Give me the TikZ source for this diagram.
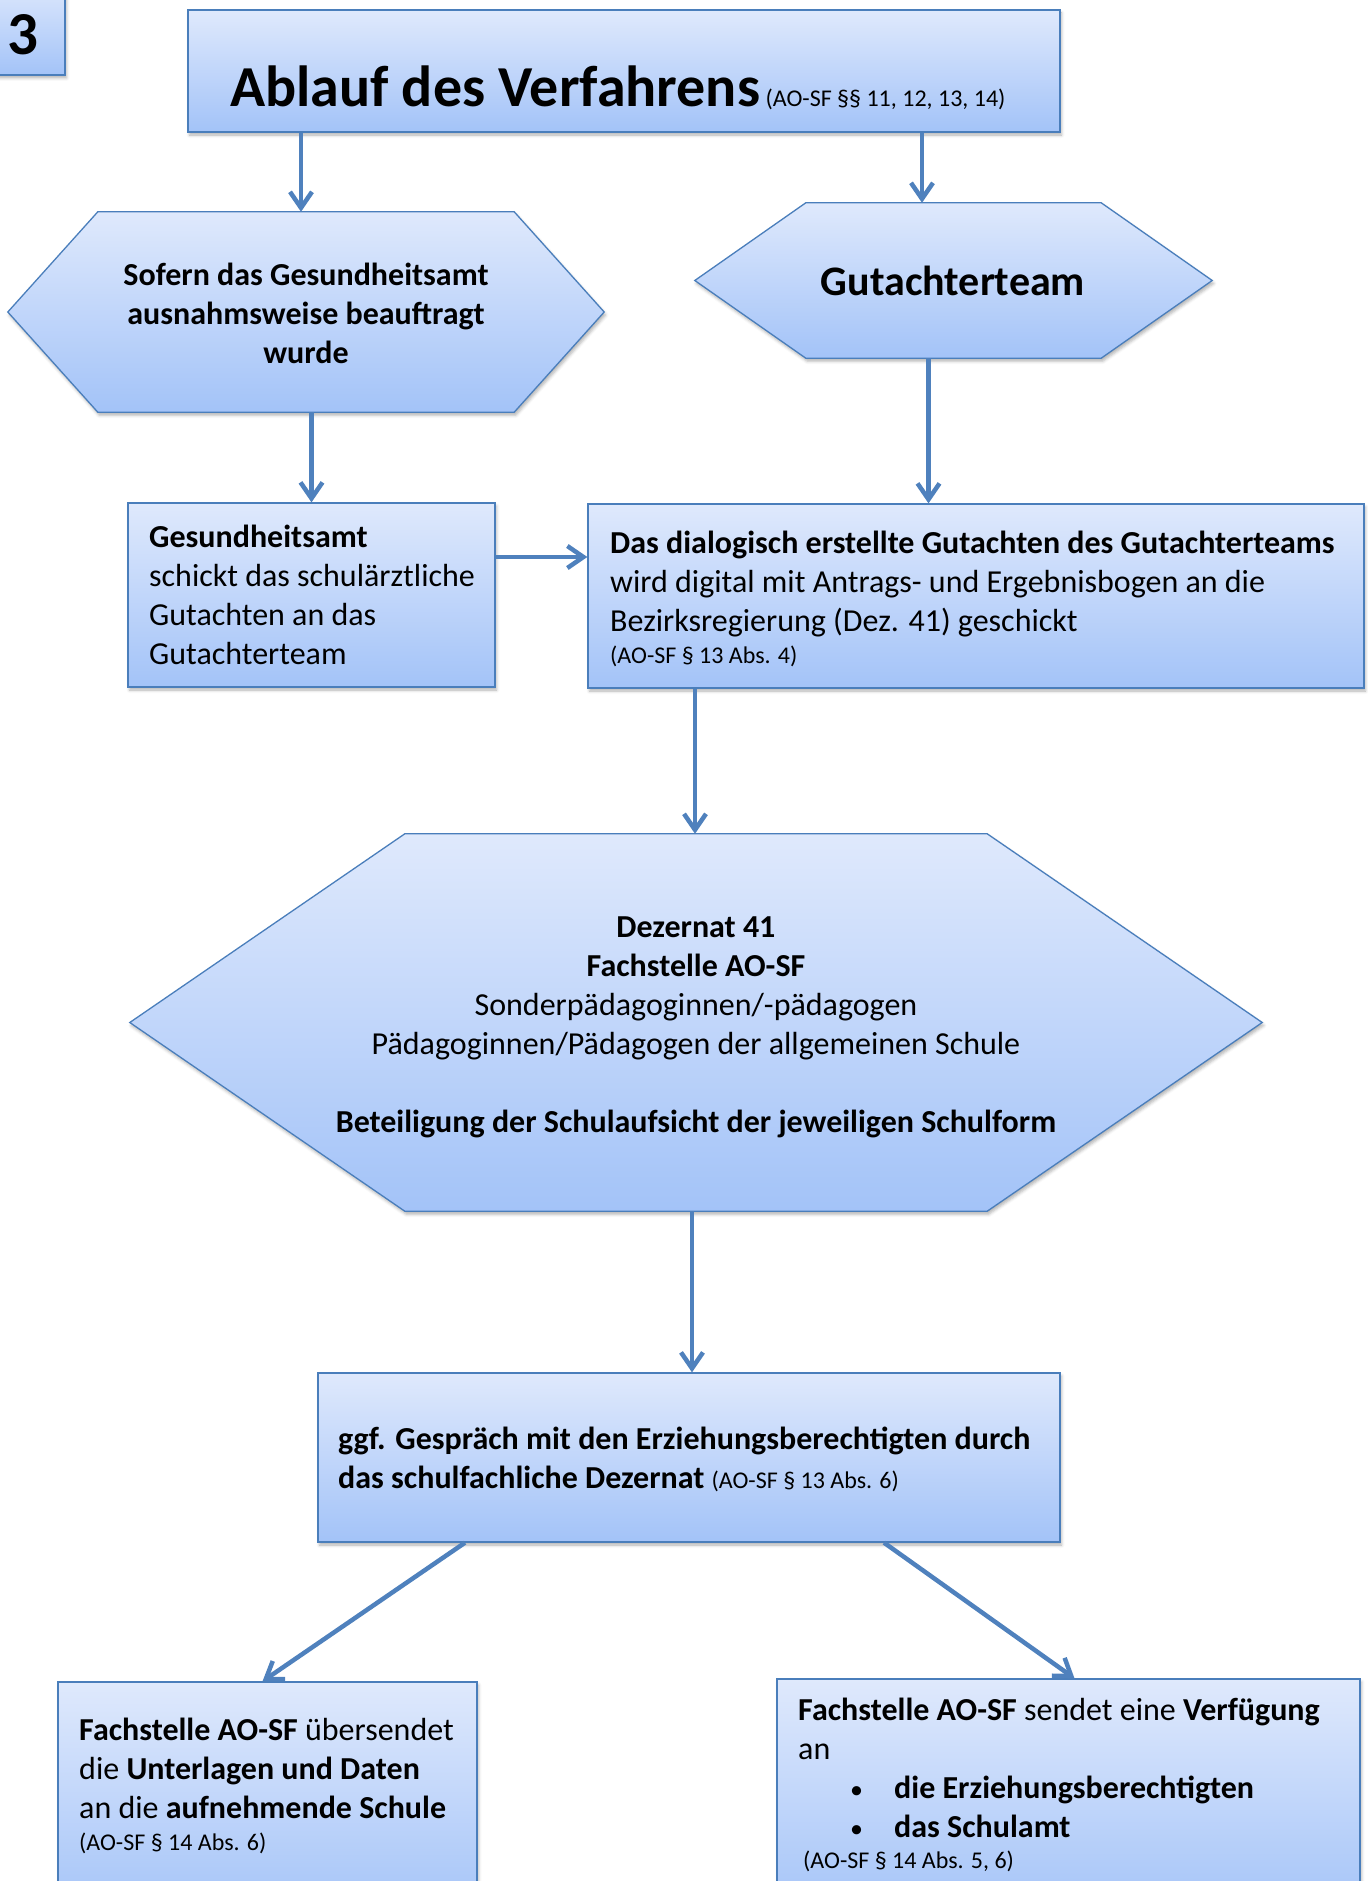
\documentclass[tikz,border=0pt]{standalone}
\usepackage{fontspec}
\setmainfont{Carlito}
\usetikzlibrary{arrows.meta,shadows.blur,calc}
\definecolor{bord}{RGB}{74,126,187}
\definecolor{arrc}{RGB}{79,129,189}
\definecolor{ftop}{RGB}{223,233,252}
\definecolor{fbot}{RGB}{163,195,248}
\newcommand\fbig{\fontsize{32}{39}\selectfont}
\newcommand\fsml{\fontsize{24}{29}\selectfont}
\newcommand\fttl{\fontsize{58}{70}\selectfont}
\newcommand\fnum{\fontsize{61}{72}\selectfont}
\newcommand\fgut{\fontsize{42}{51}\selectfont}
\newcommand\hexpath[2]{%
  \path[hexshape] ([xshift=#2]#1.north west) -- ([xshift=-#2]#1.north east) -- (#1.east)
    -- ([xshift=-#2]#1.south east) -- ([xshift=#2]#1.south west) -- (#1.west) -- cycle;}
\begin{document}
\begin{tikzpicture}[x=1pt,y=-1pt,
  shad/.style={blur shadow={shadow xshift=1.5pt, shadow yshift=-3pt, shadow blur radius=3pt, shadow opacity=30}},
  box/.style={rectangle, draw=bord, line width=1.3pt, top color=ftop, bottom color=fbot, inner sep=0pt, shad},
  hexbase/.style={rectangle, draw=none, inner sep=0pt},
  hexshape/.style={draw=bord, line width=1.3pt, top color=ftop, bottom color=fbot, shad},
  arr/.style={draw=arrc, line width=4.5pt, -{Straight Barb[length=16pt,width=22pt]}},
  txt/.style={inner sep=0pt, anchor=base west, align=left, font=\fbig},
  ctxt/.style={inner sep=0pt, anchor=base, align=center, font=\fbig},
  stxt/.style={inner sep=0pt, anchor=base west, font=\fsml}]
\useasboundingbox (0,0) rectangle (1368,1881);
\clip (0,0) rectangle (1368,1881);
% shapes
\node[box, minimum width=85pt, minimum height=95pt] (numbox) at (22.5,27.5) {};
\node[box, minimum width=872pt, minimum height=122pt] (title) at (624,71) {};
\node[hexbase, minimum width=596pt, minimum height=200pt] (lhex) at (306,312) {};
\hexpath{lhex}{90pt}
\node[hexbase, minimum width=517pt, minimum height=155pt] (rhex) at (953.5,280.5) {};
\hexpath{rhex}{111pt}
\node[box, minimum width=367pt, minimum height=184pt] (gbox) at (311.5,595) {};
\node[box, minimum width=776pt, minimum height=184pt] (bigbox) at (976,596) {};
\node[hexbase, minimum width=1132pt, minimum height=377pt] (bhex) at (696,1022.5) {};
\hexpath{bhex}{275pt}
\node[box, minimum width=742pt, minimum height=169pt] (ggf) at (689,1457.5) {};
\node[box, minimum width=419pt, minimum height=238pt] (lbox) at (267.5,1801) {};
\node[box, minimum width=583pt, minimum height=241pt] (rbox) at (1068.5,1799.5) {};
% connectors
\draw[arr] ([xshift=-323pt]title.south) -- ([xshift=-323pt]title.south |- lhex.north);
\draw[arr] ([xshift=298pt]title.south) -- ([xshift=298pt]title.south |- rhex.north);
\draw[arr] (lhex.south -| gbox.north) -- (gbox.north);
\draw[arr] ([xshift=-25pt]rhex.south) -- ([xshift=-25pt]rhex.south |- bigbox.north);
\draw[arr] ([yshift=38pt]gbox.east) -- ([yshift=38pt]gbox.east -| bigbox.west);
\draw[arr] ([xshift=-1pt]bigbox.south -| bhex.north) -- ([xshift=-1pt]bhex.north);
\draw[arr] ([xshift=-4pt]bhex.south) -- ([xshift=-4pt]bhex.south |- ggf.north);
\draw[arr] ([xshift=-224pt]ggf.south) -- ([xshift=-5pt]lbox.north);
\draw[arr] ([xshift=195pt]ggf.south) -- ([xshift=6pt]rbox.north);
% texts (multi-line nodes: base = last line's baseline)
\node[txt, font=\fnum\bfseries] (t3) at (7,55) {3};
\node[txt] (ttitle) at (230,107) {{\fttl\bfseries Ablauf des Verfahrens}{\fsml\ (AO-SF §§ 11, 12, 13, 14)}};
\node[ctxt, font=\fbig\bfseries] (tlhex) at (306,363) {Sofern das Gesundheitsamt\\ausnahmsweise beauftragt\\wurde};
\node[ctxt, font=\fgut\bfseries] (trhex) at (953,295) {Gutachterteam};
\node[txt] (tgbox) at (149,664) {\textbf{Gesundheitsamt}\\schickt das schulärztliche\\Gutachten an das\\Gutachterteam};
\node[txt] (tbig) at (610,631) {\textbf{Das dialogisch erstellte Gutachten des Gutachterteams}\\wird digital mit Antrags- und Ergebnisbogen an die\\Bezirksregierung (Dez. 41) geschickt};
\node[stxt] (tbigref) at (610,663) {(AO-SF § 13 Abs. 4)};
\node[ctxt] (tbhex) at (696,1132) {\textbf{Dezernat 41}\\\textbf{Fachstelle AO-SF}\\Sonderpädagoginnen/-pädagogen\\Pädagoginnen/Pädagogen der allgemeinen Schule\\[39pt]\textbf{Beteiligung der Schulaufsicht der jeweiligen Schulform}};
\node[txt] (tggf) at (338,1488) {\textbf{ggf. Gespräch mit den Erziehungsberechtigten durch}\\\textbf{das schulfachliche Dezernat} {\fsml(AO-SF § 13 Abs. 6)}};
\node[txt] (tlbox) at (79,1818) {\textbf{Fachstelle AO-SF} übersendet\\die \textbf{Unterlagen und Daten}\\an die \textbf{aufnehmende Schule}};
\node[stxt] (tlref) at (79,1850) {(AO-SF § 14 Abs. 6)};
\node[txt] (trbox) at (798,1837) {\textbf{Fachstelle AO-SF} sendet eine \textbf{Verfügung}\\an\\\makebox[96pt][l]{\hspace*{52pt}\fontsize{26}{39}\selectfont•}\textbf{die Erziehungsberechtigten}\\\makebox[96pt][l]{\hspace*{52pt}\fontsize{26}{39}\selectfont•}\textbf{das Schulamt}};
\node[stxt] (trref) at (803,1868) {(AO-SF § 14 Abs. 5, 6)};
\end{tikzpicture}
\end{document}
